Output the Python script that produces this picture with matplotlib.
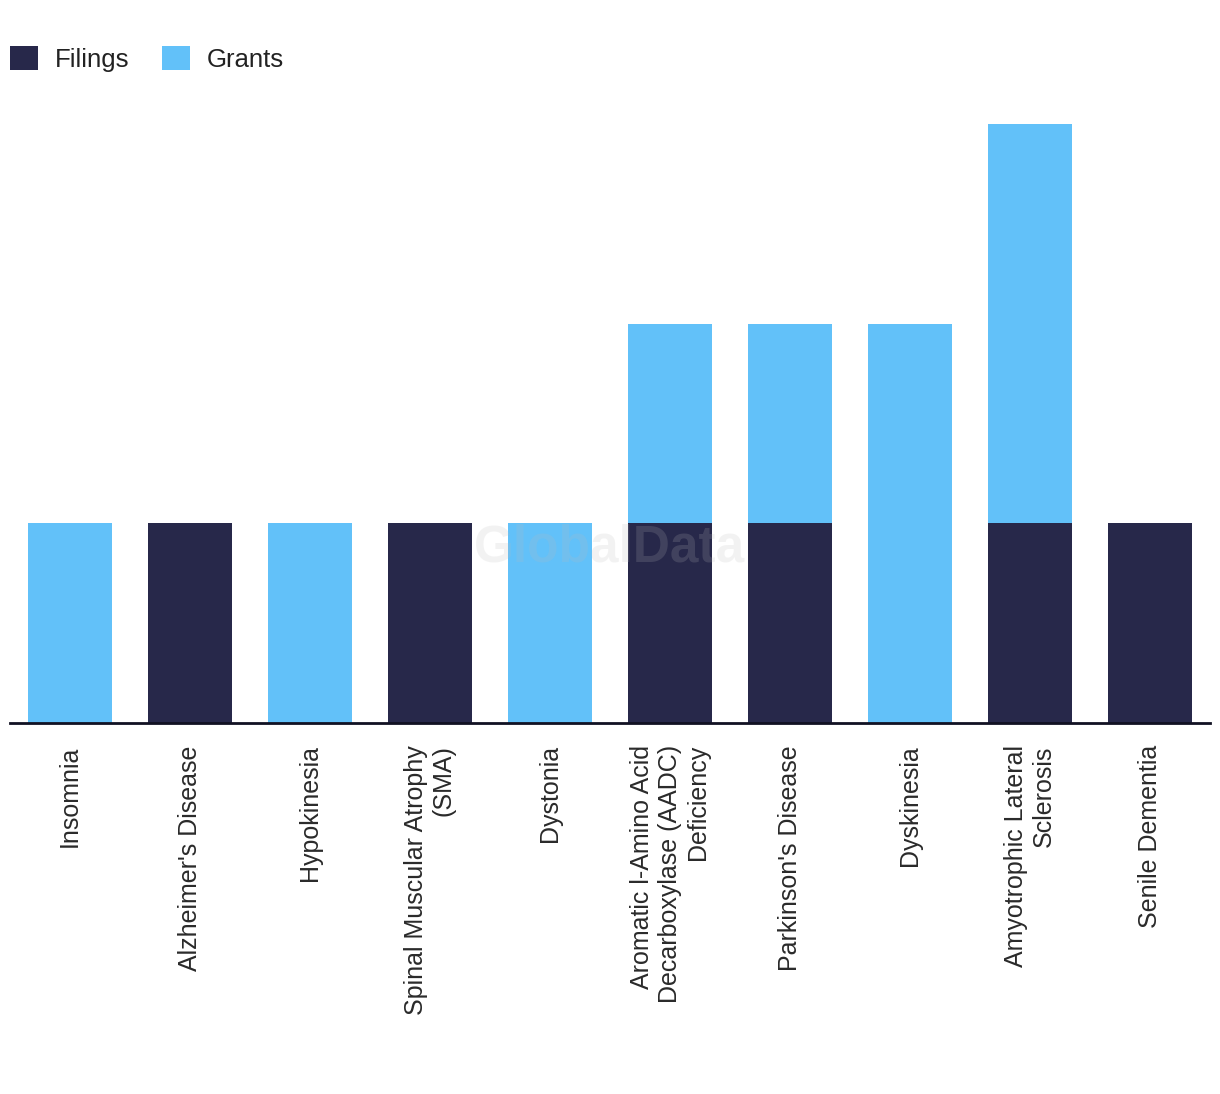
import matplotlib.pyplot as plt
import numpy as np

plt.rcParams['font.family'] = ['Liberation Sans', 'DejaVu Sans']

diseases = ['Insomnia', "Alzheimer's Disease", 'Hypokinesia',
            'Spinal Muscular Atrophy\n(SMA)', 'Dystonia',
            'Aromatic l-Amino Acid\nDecarboxylase (AADC)\nDeficiency',
            "Parkinson's Disease", 'Dyskinesia',
            'Amyotrophic Lateral\nSclerosis', 'Senile Dementia']
filings = [0, 1, 0, 1, 0, 1, 1, 0, 1, 1]
grants = [1, 0, 1, 0, 1, 1, 1, 2, 2, 0]

navy = '#27284A'
blue = '#62C1F9'

fig = plt.figure(figsize=(12.2, 10.94), dpi=100)
ax = fig.add_axes([10/1220, 1 - 723/1094, 1200/1220, (723 - 124)/1094])

x = np.arange(len(diseases))
ax.bar(x, filings, width=0.7, color=navy, label='Filings')
ax.bar(x, grants, width=0.7, bottom=filings, color=blue, label='Grants')

ax.set_xlim(-0.5, len(diseases) - 0.5)
ax.set_ylim(0, 3)
ax.set_xticks(x)
ax.set_xticklabels(diseases, rotation=90, ha='center', va='top',
                   multialignment='right', fontsize=18, color='#2a2a2a',
                   linespacing=1.2)
ax.tick_params(axis='x', length=0, pad=16)
ax.set_yticks([])
for s in ['top', 'right', 'left']:
    ax.spines[s].set_visible(False)
ax.spines['bottom'].set_color('#111122')
ax.spines['bottom'].set_linewidth(2)

ax.text(0.5, (723 - 548) / (723 - 124), 'GlobalData',
        transform=ax.transAxes, ha='center', va='center', fontsize=37,
        fontweight='bold', color='#bbbbbb', alpha=0.18, zorder=5)

ax.legend(loc='upper left', bbox_to_anchor=(10/1220, 1 - 46/1094),
          bbox_transform=fig.transFigure, ncol=2, frameon=False,
          fontsize=18.5, handlelength=1.09, handleheight=1.09,
          borderaxespad=0, borderpad=0, columnspacing=1.25,
          handletextpad=0.66, labelcolor='#222222')

fig.savefig('out.png', dpi=100)
